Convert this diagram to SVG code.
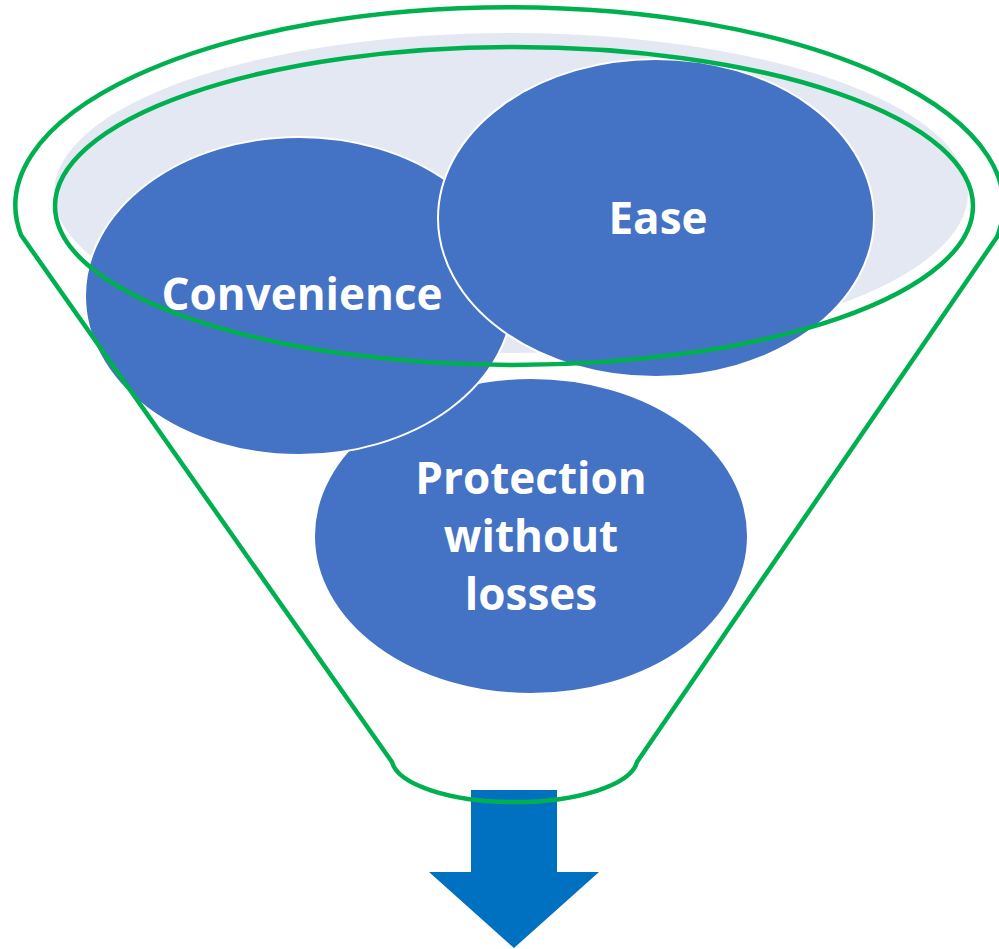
<svg xmlns="http://www.w3.org/2000/svg" width="999" height="949" viewBox="0 0 999 949">
  <style>
    .bubble { fill: #4472C4; stroke: #FFFFFF; stroke-width: 2; }
    .label { font-family: "Open Sans", "Noto Sans", "Liberation Sans", sans-serif; font-weight: bold; font-size: 44px; fill: #FFFFFF; text-anchor: middle; }
    .green { fill: none; stroke: #00B050; stroke-width: 4.5; stroke-linejoin: round; }
  </style>
  <rect width="999" height="949" fill="#FFFFFF"/>
  <g id="funnel-mouth">
    <ellipse cx="511" cy="193" rx="457" ry="160" fill="#E3E8F3"/>
  </g>
  <g id="node-protection">
    <ellipse class="bubble" cx="531" cy="536" rx="217" ry="158"/>
    <text class="label" x="531" y="494">Protection</text>
    <text class="label" x="531" y="552">without</text>
    <text class="label" x="531" y="610">losses</text>
  </g>
  <g id="node-convenience">
    <ellipse class="bubble" cx="299" cy="296" rx="214" ry="159"/>
    <text class="label" x="302" y="310">Convenience</text>
  </g>
  <g id="node-ease">
    <ellipse class="bubble" cx="656" cy="218" rx="218" ry="159"/>
    <text class="label" x="658" y="234">Ease</text>
  </g>
  <g id="output-arrow">
    <polygon points="471,790 557,790 557,872 599,872 514,948 429,872 471,872" fill="#0070C0"/>
  </g>
  <g id="funnel">
    <path class="green" d="M 21,235 A 494 198 0 1 1 997,237 L 637,762 A 123 44 0 0 1 392,762 Z"/>
    <ellipse class="green" cx="514" cy="206" rx="459" ry="159"/>
  </g>
</svg>
